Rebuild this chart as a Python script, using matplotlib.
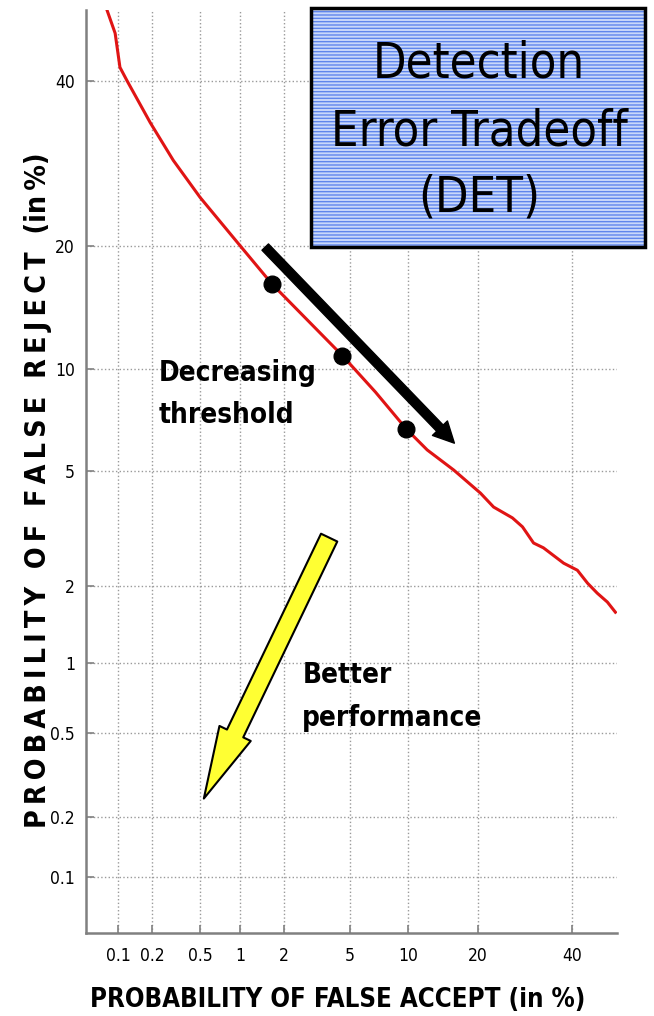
import math
from statistics import NormalDist
import numpy as np
import matplotlib
matplotlib.use('Agg')
import matplotlib.pyplot as plt
from matplotlib.patches import Rectangle, FancyArrowPatch

# DET curve (percent)
false_accept = [0.079, 0.094, 0.104, 0.121, 0.193, 0.302, 0.497, 1.0, 1.67, 4.55, 6.9, 9.85,
                12.3, 16.0, 20.4, 22.8, 26.5, 28.6, 31.0, 33.2, 37.9, 41.2, 43.7, 46.1, 48.6, 50.6]
false_reject = [50, 46.7, 41.9, 40, 34.4, 29.6, 25.2, 20, 16.4, 10.9, 8.66, 6.76,
                5.84, 5.05, 4.25, 3.82, 3.51, 3.27, 2.87, 2.76, 2.43, 2.29, 2.05, 1.88, 1.74, 1.59]

# operating points (black dots)
dots_fa = [1.67, 4.55, 9.85]
dots_fr = [16.4, 10.9, 6.76]

ticks = [0.1, 0.2, 0.5, 1, 2, 5, 10, 20, 40]
tick_labels = ['0.1', '0.2', '0.5', '1', '2', '5', '10', '20', '40']

nd = NormalDist()
_ppf = np.vectorize(lambda p: nd.inv_cdf(min(max(p / 100.0, 1e-9), 1 - 1e-9)), otypes=[float])
_cdf = np.vectorize(lambda z: 50.0 * (1 + math.erf(z / math.sqrt(2))), otypes=[float])


def fwd(p):
    return _ppf(np.asarray(p, dtype=float))


def inv(z):
    return _cdf(np.asarray(z, dtype=float))


cond = dict(family='DejaVu Sans', fontstretch='condensed')

fig = plt.figure(figsize=(6.54, 10.16), dpi=100)
ax = fig.add_axes([86/654, 83/1016, 531/654, 923/1016])
ax.set_xscale('function', functions=(fwd, inv))
ax.set_yscale('function', functions=(fwd, inv))
ax.set_xlim(0.05, 51)
ax.set_ylim(0.05, 50)

ax.plot(false_accept, false_reject, color='#e01414', lw=2.2)
ax.plot(dots_fa, dots_fr, 'o', color='black', ms=12, zorder=5)

ax.set_xticks(ticks)
ax.set_xticklabels(tick_labels, fontsize=12.5, **cond)
ax.set_yticks(ticks)
ax.set_yticklabels(tick_labels, fontsize=12.5, **cond)
ax.minorticks_off()
ax.tick_params(direction='in', length=6, width=1.2, color='#808080', pad=8)
ax.tick_params(axis='x', pad=10)
ax.grid(True, ls=':', color='#9a9a9a', lw=1.0)
for s in ['top', 'right']:
    ax.spines[s].set_visible(False)
for s in ['left', 'bottom']:
    ax.spines[s].set_color('#808080')
    ax.spines[s].set_linewidth(1.8)

# black arrow along the curve
ax.add_patch(FancyArrowPatch((1.45, 20.1), (16.4, 6.04),
                             arrowstyle='simple,tail_width=6.5,head_width=15,head_length=15',
                             mutation_scale=1, color='black', zorder=6))
# yellow arrow toward better performance
ax.add_patch(FancyArrowPatch((3.88, 3.06), (0.52, 0.24),
                             arrowstyle='simple,tail_width=13,head_width=25,head_length=52',
                             mutation_scale=1, fc='#ffff33', ec='black', lw=1.5, zorder=6))

ax.text(0.226, 8.55, 'Decreasing\nthreshold', fontweight='bold',
        fontsize=20, ha='left', va='center', linespacing=1.65, **cond)
ax.text(2.62, 0.72, 'Better\nperformance', fontweight='bold',
        fontsize=20, ha='left', va='center', linespacing=1.65, **cond)

# title box
fig.patches.append(Rectangle((311/654, 1 - 247/1016), 334/654, 239/1016,
                             transform=fig.transFigure, fc='#c9d8fa', ec='#5f86ec',
                             hatch='-----', lw=0, zorder=10))
fig.patches.append(Rectangle((311/654, 1 - 247/1016), 334/654, 239/1016,
                             transform=fig.transFigure, fill=False, ec='black',
                             lw=2.5, zorder=11))
fig.text(479/654, 1 - 131/1016, 'Detection\nError Tradeoff\n(DET)', ha='center',
         va='center', fontsize=35, linespacing=1.5, zorder=12, **cond)

fig.text(338/654, 1 - 1000/1016, 'PROBABILITY OF FALSE ACCEPT (in %)',
         fontweight='bold', fontsize=18.5, ha='center', va='center', **cond)
ylab = '  '.join('\u2009'.join(w) for w in ['PROBABILITY', 'OF', 'FALSE', 'REJECT']) + '  (in\u2009%)'
fig.text(38/654, 1 - 490/1016, ylab,
         fontweight='bold', fontsize=20.5, rotation=90, ha='center', va='center', **cond)

fig.savefig('out.png', dpi=100)
